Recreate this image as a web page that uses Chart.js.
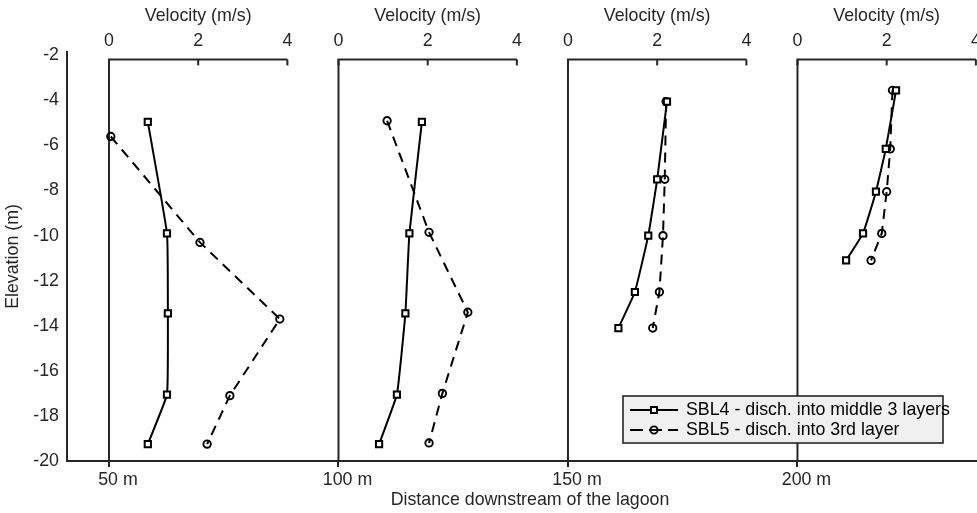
<!DOCTYPE html>
<html><head><meta charset="utf-8">
<script src="https://cdn.jsdelivr.net/npm/chart.js@4.4.1/dist/chart.umd.min.js"></script>
<style>html,body{margin:0;padding:0;overflow:hidden;background:#fff;width:977px;height:513px}canvas{display:block}</style>
</head><body><canvas id="c" width="1000" height="513"></canvas>
<script>
// ---- data ----
const stations = [50, 100, 150, 200];
const xTickLabels = ['50 m', '100 m', '150 m', '200 m'];
const velocityTicks = [0, 2, 4];
const elevationTicks = [-20, -18, -16, -14, -12, -10, -8, -6, -4, -2];
const seriesNames = ['SBL4 - disch. into middle 3 layers', 'SBL5 - disch. into 3rd layer'];

const sbl4Elev50 = [-4.95, -9.9, -13.45, -17.05, -19.25];
const sbl4Vel50  = [0.87, 1.30, 1.32, 1.30, 0.87];
const sbl5Elev50 = [-5.6, -10.3, -13.7, -17.1, -19.25];
const sbl5Vel50  = [0.04, 2.04, 3.83, 2.71, 2.20];

const sbl4Elev100 = [-4.95, -9.9, -13.45, -17.05, -19.25];
const sbl4Vel100  = [1.87, 1.59, 1.50, 1.31, 0.91];
const sbl5Elev100 = [-4.9, -9.85, -13.4, -17.0, -19.2];
const sbl5Vel100  = [1.09, 2.03, 2.90, 2.33, 2.03];

const sbl4Elev150 = [-4.05, -7.5, -10.0, -12.5, -14.1];
const sbl4Vel150  = [2.22, 2.00, 1.80, 1.50, 1.13];
const sbl5Elev150 = [-4.05, -7.5, -10.0, -12.5, -14.1];
const sbl5Vel150  = [2.20, 2.17, 2.13, 2.05, 1.90];

const sbl4Elev200 = [-3.55, -6.15, -8.05, -9.9, -11.1];
const sbl4Vel200  = [2.21, 1.98, 1.76, 1.47, 1.09];
const sbl5Elev200 = [-3.55, -6.15, -8.05, -9.9, -11.1];
const sbl5Vel200  = [2.13, 2.08, 2.00, 1.89, 1.65];

// ---- layout constants ----
const xMin = 40.85, xMax = 242.6;   // distance axis range (m)
const K = 9.717;                    // metres of distance per 1 m/s of velocity
const yMin = -20, yMax = -1.85;
const panelTopElev = -2.18;
const AX = '#262626';
const FONT = "'Liberation Sans', Arial, Helvetica, sans-serif";
const FS = 17.8;

const panels = [
  {s4e: sbl4Elev50,  s4v: sbl4Vel50,  s5e: sbl5Elev50,  s5v: sbl5Vel50},
  {s4e: sbl4Elev100, s4v: sbl4Vel100, s5e: sbl5Elev100, s5v: sbl5Vel100},
  {s4e: sbl4Elev150, s4v: sbl4Vel150, s5e: sbl5Elev150, s5v: sbl5Vel150},
  {s4e: sbl4Elev200, s4v: sbl4Vel200, s5e: sbl5Elev200, s5v: sbl5Vel200}
];

const pts = (vel, elev) => vel.map((v, i) => ({x: v, y: elev[i]}));
const datasets = [];
const scales = {};
panels.forEach((p, i) => {
  const id = 'v' + (i + 1);
  datasets.push({
    label: seriesNames[0], xAxisID: id, yAxisID: 'y', data: pts(p.s4v, p.s4e),
    borderColor: '#000', borderWidth: 2, tension: 0.1, fill: false,
    pointStyle: 'rect', pointRadius: 4.4, pointBorderWidth: 2,
    pointBorderColor: '#000', pointBackgroundColor: '#fff'
  });
  datasets.push({
    label: seriesNames[1], xAxisID: id, yAxisID: 'y', data: pts(p.s5v, p.s5e),
    borderColor: '#000', borderWidth: 2, borderDash: [10, 7], tension: 0, fill: false,
    pointStyle: 'circle', pointRadius: 3.7, pointBorderWidth: 1.9,
    pointBorderColor: '#000', pointBackgroundColor: 'rgba(0,0,0,0)'
  });
  scales[id] = {
    type: 'linear', position: 'top', display: false,
    min: (xMin - stations[i]) / K, max: (xMax - stations[i]) / K,
    ticks: {display: false}, grid: {display: false}
  };
});

scales.x = {
  type: 'linear', position: 'bottom', min: xMin, max: xMax,
  afterBuildTicks: s => { s.ticks = stations.map(v => ({value: v})); },
  afterFit: s => { s.height = 52; },
  ticks: {
    autoSkip: false, maxRotation: 0, minRotation: 0, padding: 2, labelOffset: 9,
    color: AX, font: {family: FONT, size: FS},
    callback: (v, i) => xTickLabels[i]
  },
  grid: {drawOnChartArea: false, drawTicks: true, tickLength: 6, color: AX, lineWidth: 2},
  border: {display: true, color: AX, width: 2},
  title: {display: true, text: 'Distance downstream of the lagoon', color: AX,
          font: {family: FONT, size: FS}, padding: {top: 2, bottom: 2}}
};
scales.y = {
  type: 'linear', position: 'left', min: yMin, max: yMax,
  afterBuildTicks: s => { s.ticks = elevationTicks.map(v => ({value: v})); },
  afterFit: s => { s.width = 67; },
  ticks: {padding: 8, color: AX, font: {family: FONT, size: FS}},
  grid: {drawOnChartArea: false, drawTicks: false, color: AX, lineWidth: 2},
  border: {display: true, color: AX, width: 2},
  title: {display: true, text: 'Elevation (m)', color: AX,
          font: {family: FONT, size: FS}, padding: {top: 2, bottom: 2}}
};

const panelAxes = {
  id: 'panelAxes',
  beforeDatasetsDraw(chart) {
    const ctx = chart.ctx, y = chart.scales.y, ca = chart.chartArea;
    const yTop = y.getPixelForValue(panelTopElev);
    ctx.save();
    ctx.strokeStyle = AX; ctx.lineWidth = 2; ctx.fillStyle = AX;
    ctx.font = FS + 'px ' + FONT;
    panels.forEach((p, i) => {
      const s = chart.scales['v' + (i + 1)];
      const x0 = s.getPixelForValue(velocityTicks[0]);
      const x1 = s.getPixelForValue(velocityTicks[velocityTicks.length - 1]);
      ctx.beginPath();
      ctx.moveTo(x0, ca.bottom); ctx.lineTo(x0, yTop); ctx.lineTo(x1, yTop);
      ctx.stroke();
      ctx.textAlign = 'center'; ctx.textBaseline = 'middle';
      velocityTicks.forEach(v => {
        const xp = s.getPixelForValue(v);
        ctx.beginPath(); ctx.moveTo(xp, yTop); ctx.lineTo(xp, yTop + 6); ctx.stroke();
        ctx.fillText(String(v), xp, 41);
      });
      ctx.fillText('Velocity (m/s)', (x0 + x1) / 2, 16);
    });
    ctx.restore();
  }
};

const legendBox = {
  id: 'legendBox',
  afterDraw(chart) {
    const ctx = chart.ctx;
    const bx = 623, by = 396, bw = 320, bh = 47;
    ctx.save();
    ctx.fillStyle = '#f0f0f0'; ctx.fillRect(bx, by, bw, bh);
    ctx.strokeStyle = AX; ctx.lineWidth = 1.6; ctx.strokeRect(bx, by, bw, bh);
    const rows = [410, 430];
    ctx.strokeStyle = '#000'; ctx.lineWidth = 2;
    // row 1
    ctx.beginPath(); ctx.moveTo(630, rows[0]); ctx.lineTo(678, rows[0]); ctx.stroke();
    ctx.fillStyle = '#fff'; ctx.lineWidth = 2;
    ctx.beginPath(); ctx.rect(654 - 3, rows[0] - 3, 6, 6); ctx.fill(); ctx.stroke();
    // row 2
    ctx.lineWidth = 2; ctx.setLineDash([13, 6]);
    ctx.beginPath(); ctx.moveTo(630, rows[1]); ctx.lineTo(678, rows[1]); ctx.stroke();
    ctx.setLineDash([]); ctx.lineWidth = 1.9;
    ctx.beginPath(); ctx.arc(654, rows[1], 3.6, 0, Math.PI * 2); ctx.stroke();
    ctx.fillStyle = '#000'; ctx.font = FS + 'px ' + FONT;
    ctx.textAlign = 'left'; ctx.textBaseline = 'middle';
    ctx.fillText(seriesNames[0], 686, rows[0]);
    ctx.fillText(seriesNames[1], 686, rows[1]);
    ctx.restore();
  }
};

new Chart(document.getElementById('c'), {
  type: 'line',
  data: {datasets},
  options: {
    responsive: false, animation: false, maintainAspectRatio: false,
    layout: {padding: {left: 0, top: 52, right: 7, bottom: 0}},
    plugins: {legend: {display: false}, tooltip: {enabled: false}},
    scales
  },
  plugins: [panelAxes, legendBox]
});
</script></body></html>
